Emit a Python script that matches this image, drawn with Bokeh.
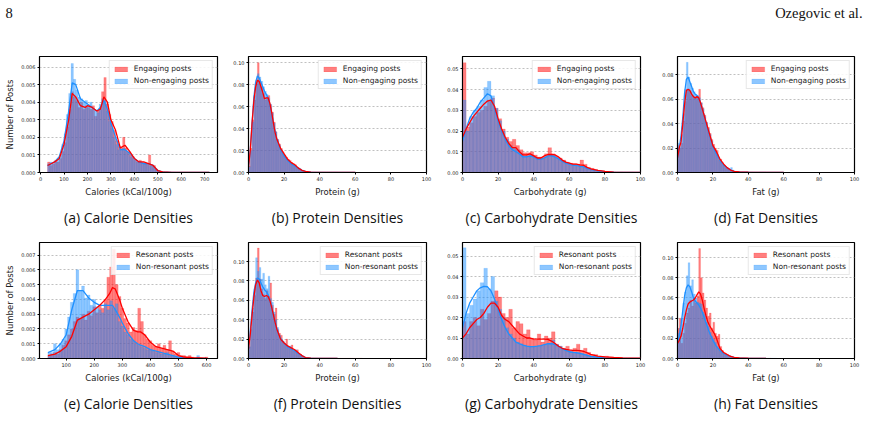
import numpy as np
from bokeh.plotting import figure
from bokeh.layouts import column, row
from bokeh.models import (Range1d, FixedTicker, NumeralTickFormatter, Legend,
                          LegendItem, Title)
from bokeh.embed import file_html
from bokeh.resources import INLINE
from bokeh.core.properties import value

# ---------------- DATA ----------------
# (a) Calories, engaging vs non-engaging; bins of 10 kCal starting at 30
cal_bin_start = 30
cal_bin_width = 10
cal_engaging = [0.0006, 0.0004, 0.0005, 0.0007, 0.0006, 0.0008, 0.0012, 0.0017, 0.0026, 0.0036,
                0.0046, 0.0043, 0.0041, 0.0037, 0.0040, 0.0036, 0.0038, 0.0037, 0.0036, 0.0038,
                0.0032, 0.0035, 0.0036, 0.0046, 0.0054, 0.0039, 0.0033, 0.0029, 0.0024, 0.0018,
                0.0015, 0.0014, 0.0020, 0.0014, 0.0012, 0.0010, 0.0009, 0.0007, 0.0006, 0.0007,
                0.0006, 0.0005, 0.0005, 0.0010, 0.0004, 0.0004, 0.0002, 0.0001,
                0.00006, 0.00004, 0.00003, 0.00002, 0.00002, 0.00002, 0.00001, 0.00001, 0.00001,
                0.00001, 0.00001, 0.00001, 0.00001, 0.00001, 0.00001, 0.00001, 0.00001, 0.00001,
                0.00001, 0.00001, 0.00001]
cal_nonengaging = [0.0005, 0.0006, 0.0005, 0.0006, 0.0008, 0.0010, 0.0016, 0.0022, 0.0033, 0.0045,
                   0.0062, 0.0053, 0.0047, 0.0043, 0.0042, 0.0040, 0.0041, 0.0038, 0.0040, 0.0036,
                   0.0035, 0.0034, 0.0039, 0.0042, 0.0041, 0.0035, 0.0029, 0.0025, 0.0020, 0.0016,
                   0.0013, 0.0013, 0.0014, 0.0012, 0.0011, 0.0009, 0.0008, 0.0007, 0.0006, 0.0006,
                   0.0005, 0.0005, 0.0005, 0.0004, 0.0004, 0.0003, 0.0002, 0.0001,
                   0.00004, 0.00003, 0.00003, 0.00002, 0.00002, 0.00001, 0.00001, 0.00001, 0.00001,
                   0.00001, 0.00001, 0.00001, 0.00001, 0.00001, 0.00001, 0.00001, 0.00001, 0.00001,
                   0.00001, 0.00001, 0.00001]
cal_kde_x = [30, 45, 60, 80, 100, 120, 135, 150, 170, 190, 200, 220, 240, 255, 270, 285,
             300, 320, 340, 360, 380, 400, 420, 440, 460, 480, 500, 520, 560, 620, 680, 720]
cal_kde_engaging = [0.0004, 0.0005, 0.0006, 0.0008, 0.0016, 0.0030, 0.0045, 0.0043, 0.0038, 0.0037,
                    0.0038, 0.0037, 0.0035, 0.0036, 0.0043, 0.0040, 0.0030, 0.0024, 0.0014, 0.00155,
                    0.0012, 0.0008, 0.0006, 0.0006, 0.0005, 0.0004, 0.0001, 0.00003, 0.00001,
                    0.00001, 0.00001, 0.0]
cal_kde_nonengaging = [0.0004, 0.0005, 0.0006, 0.0009, 0.0018, 0.0035, 0.0051, 0.0050, 0.0042, 0.0040,
                       0.0039, 0.0037, 0.0035, 0.0037, 0.0041, 0.0036, 0.0028, 0.0020, 0.0013, 0.0013,
                       0.0011, 0.0008, 0.0006, 0.0005, 0.0005, 0.0004, 0.0001, 0.00003, 0.00001,
                       0.00001, 0.00001, 0.0]

# (b) Protein, 1 g bins from 0
prot_bin_start = 0
prot_bin_width = 1
prot_engaging = [0.006, 0.022, 0.048, 0.066, 0.080, 0.100, 0.083, 0.078, 0.072, 0.066,
                 0.068, 0.070, 0.062, 0.055, 0.046, 0.037, 0.030, 0.026, 0.022, 0.019,
                 0.016, 0.014, 0.012, 0.011, 0.009, 0.008, 0.007, 0.005, 0.004, 0.003,
                 0.002, 0.001, 0.001, 0.0006, 0.0005, 0.0004, 0.0003, 0.0003, 0.0002, 0.0002,
                 0.0002, 0.0001, 0.0001, 0.0001, 0.0001, 0.0001, 0.0001, 0.0001, 0.0001, 0.0001]
prot_nonengaging = [0.005, 0.020, 0.046, 0.070, 0.084, 0.090, 0.087, 0.083, 0.078, 0.074,
                    0.071, 0.068, 0.062, 0.054, 0.045, 0.037, 0.030, 0.025, 0.021, 0.017,
                    0.015, 0.012, 0.011, 0.009, 0.008, 0.007, 0.006, 0.005, 0.004, 0.003,
                    0.002, 0.001, 0.0008, 0.0005, 0.0004, 0.0003, 0.0003, 0.0002, 0.0002, 0.0001,
                    0.0001, 0.0001, 0.0001, 0.0001, 0.0001, 0.0001, 0.0001, 0.0001, 0.0001, 0.0001]
prot_kde_x = [0, 1, 2, 3, 4, 5, 6, 7, 8, 9, 10, 11, 12, 13, 14, 15, 16, 18, 20, 22, 24, 26,
              28, 30, 32, 35, 40, 50, 60]
prot_kde_engaging = [0.005, 0.020, 0.045, 0.065, 0.078, 0.084, 0.083, 0.078, 0.073, 0.067, 0.068,
                     0.068, 0.063, 0.055, 0.045, 0.036, 0.030, 0.022, 0.017, 0.012, 0.009, 0.007,
                     0.004, 0.002, 0.001, 0.0003, 0.0001, 0.0, 0.0]
prot_kde_nonengaging = [0.005, 0.020, 0.045, 0.068, 0.082, 0.088, 0.086, 0.082, 0.078, 0.074, 0.071,
                        0.068, 0.062, 0.054, 0.045, 0.037, 0.030, 0.021, 0.015, 0.011, 0.008, 0.006,
                        0.004, 0.002, 0.001, 0.0003, 0.0001, 0.0, 0.0]

# (c) Carbohydrate, 2 g bins from 0
carb_bin_start = 0
carb_bin_width = 2
carb_engaging = [0.053, 0.022, 0.024, 0.027, 0.029, 0.030, 0.032, 0.035, 0.036, 0.031,
                 0.026, 0.021, 0.017, 0.015, 0.016, 0.013, 0.011, 0.0095, 0.0095, 0.010,
                 0.0085, 0.0075, 0.0075, 0.009, 0.012, 0.009, 0.008, 0.007, 0.006, 0.005,
                 0.0045, 0.0042, 0.0040, 0.0060, 0.0040, 0.0025, 0.0020, 0.0015, 0.0010, 0.0008,
                 0.0005, 0.0004, 0.0003, 0.0002, 0.0002, 0.0001, 0.0001, 0.0001, 0.0001, 0.0001]
carb_nonengaging = [0.035, 0.020, 0.027, 0.030, 0.032, 0.035, 0.041, 0.044, 0.037, 0.031,
                    0.025, 0.020, 0.016, 0.013, 0.012, 0.011, 0.009, 0.008, 0.008, 0.0085,
                    0.0075, 0.0065, 0.0065, 0.0075, 0.0085, 0.0085, 0.0075, 0.0065, 0.0055, 0.0045,
                    0.0040, 0.0036, 0.0034, 0.0030, 0.0028, 0.0020, 0.0015, 0.0012, 0.0008, 0.0005,
                    0.0004, 0.0003, 0.0002, 0.0001, 0.0001, 0.0001, 0.0001, 0.0001, 0.0, 0.0]
carb_kde_x = [0, 2, 4, 6, 8, 10, 12, 14, 16, 18, 20, 22, 24, 26, 28, 30, 32, 34, 36, 38, 40,
              42, 44, 46, 48, 50, 52, 54, 56, 58, 60, 62, 64, 66, 68, 70, 72, 76, 80, 85, 90, 100]
carb_kde_engaging = [0.017, 0.021, 0.024, 0.027, 0.029, 0.031, 0.033, 0.0345, 0.035, 0.032, 0.026,
                     0.021, 0.017, 0.014, 0.012, 0.012, 0.010, 0.0085, 0.0085, 0.009, 0.008,
                     0.007, 0.007, 0.008, 0.0087, 0.0087, 0.0085, 0.0075, 0.006, 0.005, 0.0045,
                     0.004, 0.004, 0.0037, 0.0035, 0.0025, 0.0018, 0.001, 0.0005, 0.0002, 0.0001, 0.0001]
carb_kde_nonengaging = [0.015, 0.021, 0.026, 0.029, 0.031, 0.034, 0.036, 0.038, 0.037, 0.031, 0.025,
                        0.020, 0.016, 0.013, 0.011, 0.010, 0.009, 0.0075, 0.0075, 0.008, 0.0075,
                        0.0065, 0.0065, 0.007, 0.008, 0.008, 0.0075, 0.0065, 0.0055, 0.0045, 0.004,
                        0.0035, 0.0035, 0.003, 0.0028, 0.002, 0.0015, 0.0008, 0.0004, 0.0002, 0.0001, 0.0]

# (d) Fat, 1 g bins from 0
fat_bin_start = 0
fat_bin_width = 1
fat_engaging = [0.022, 0.020, 0.024, 0.042, 0.058, 0.068, 0.068, 0.066, 0.063, 0.061,
                0.061, 0.062, 0.068, 0.057, 0.053, 0.047, 0.041, 0.037, 0.032, 0.027,
                0.023, 0.020, 0.018, 0.012, 0.011, 0.008, 0.006, 0.004, 0.003, 0.002,
                0.0015, 0.001, 0.0008, 0.0006, 0.0005, 0.0004, 0.0003, 0.0003, 0.0002, 0.0002,
                0.0002, 0.0002, 0.0002, 0.0001, 0.0001, 0.0001, 0.0001, 0.0001, 0.0001, 0.0001]
fat_nonengaging = [0.024, 0.021, 0.031, 0.048, 0.068, 0.090, 0.078, 0.073, 0.069, 0.066,
                   0.064, 0.063, 0.061, 0.057, 0.052, 0.046, 0.041, 0.036, 0.031, 0.026,
                   0.021, 0.018, 0.015, 0.010, 0.009, 0.006, 0.005, 0.004, 0.003, 0.003,
                   0.004, 0.002, 0.001, 0.0006, 0.0005, 0.0004, 0.0003, 0.0003, 0.0002, 0.0002,
                   0.0002, 0.0002, 0.0001, 0.0001, 0.0001, 0.0001, 0.0001, 0.0001, 0.0001, 0.0001]
fat_kde_x = [0, 1, 2, 3, 4, 5, 6, 7, 8, 9, 10, 11, 12, 13, 14, 15, 16, 17, 18, 19, 20,
             22, 24, 26, 28, 30, 32, 35, 40, 50, 60]
fat_kde_engaging = [0.012, 0.020, 0.025, 0.040, 0.056, 0.067, 0.068, 0.067, 0.064, 0.062, 0.061,
                    0.062, 0.061, 0.057, 0.052, 0.047, 0.042, 0.037, 0.032, 0.027, 0.022,
                    0.017, 0.011, 0.007, 0.004, 0.002, 0.001, 0.0005, 0.0002, 0.0001, 0.0]
fat_kde_nonengaging = [0.012, 0.020, 0.030, 0.045, 0.065, 0.076, 0.078, 0.074, 0.070, 0.066, 0.064,
                       0.063, 0.061, 0.057, 0.052, 0.047, 0.041, 0.036, 0.031, 0.026, 0.021,
                       0.015, 0.010, 0.006, 0.004, 0.002, 0.001, 0.0005, 0.0002, 0.0001, 0.0]

# (e) Calories, resonant vs non-resonant; bins of 10 kCal starting at 35
rcal_bin_start = 35
rcal_bin_width = 10
rcal_resonant = [0.0002, 0.0003, 0.0004, 0.0003, 0.0006, 0.0009, 0.0012, 0.0016, 0.0020, 0.0025,
                 0.0028, 0.0027, 0.0030, 0.0026, 0.0032, 0.0029, 0.0035, 0.0031, 0.0036, 0.0034,
                 0.0040, 0.0055, 0.0062, 0.0074, 0.0050, 0.0042, 0.0034, 0.0027, 0.0024, 0.0018,
                 0.0021, 0.0019, 0.0034, 0.0025, 0.0016, 0.0013, 0.0012, 0.0009, 0.0008, 0.0010,
                 0.0007, 0.0009, 0.0006, 0.0012, 0.0005, 0.0003, 0.0004, 0.0002, 0.0002, 0.0001,
                 0.0002, 0.0001, 0.0, 0.0001, 0.0, 0.0, 0.0001, 0.0]
rcal_nonresonant = [0.0004, 0.0004, 0.0010, 0.0006, 0.0010, 0.0013, 0.0020, 0.0028, 0.0038, 0.0044,
                    0.0060, 0.0046, 0.0049, 0.0041, 0.0043, 0.0036, 0.0040, 0.0035, 0.0033, 0.0031,
                    0.0037, 0.0033, 0.0039, 0.0034, 0.0037, 0.0025, 0.0022, 0.0018, 0.0016, 0.0013,
                    0.0012, 0.0010, 0.0009, 0.0008, 0.0007, 0.0006, 0.0006, 0.0005, 0.0004, 0.0004,
                    0.0003, 0.0003, 0.0004, 0.0002, 0.0002, 0.0001, 0.0001, 0.0001, 0.0, 0.0,
                    0.0001, 0.0, 0.0, 0.0002, 0.0, 0.0, 0.0, 0.0]
rcal_kde_x = [35, 60, 80, 100, 120, 140, 160, 180, 200, 220, 240, 255, 265, 275, 290, 300,
              320, 340, 355, 365, 380, 400, 420, 440, 460, 480, 500, 520, 550, 600]
rcal_kde_resonant = [0.0002, 0.0003, 0.0005, 0.0008, 0.0015, 0.0026, 0.0028, 0.0030, 0.0033, 0.0036,
                     0.0040, 0.0044, 0.0048, 0.0047, 0.0040, 0.0034, 0.0025, 0.0019, 0.0018, 0.0018,
                     0.0016, 0.0011, 0.0008, 0.0007, 0.0006, 0.0005, 0.0002, 0.0001, 0.00005, 0.00002]
rcal_kde_nonresonant = [0.0004, 0.0006, 0.0010, 0.0016, 0.0033, 0.0046, 0.0046, 0.0041, 0.0038, 0.0036,
                        0.0036, 0.0036, 0.0036, 0.0033, 0.0028, 0.0024, 0.0017, 0.0012, 0.0010, 0.0009,
                        0.0008, 0.0006, 0.0005, 0.0004, 0.0003, 0.0002, 0.0001, 0.00005, 0.00003, 0.00001]

# (f) Protein, resonant
rprot_resonant = [0.012, 0.030, 0.048, 0.065, 0.083, 0.114, 0.082, 0.072, 0.066, 0.062,
                  0.070, 0.064, 0.078, 0.055, 0.046, 0.052, 0.030, 0.026, 0.024, 0.018,
                  0.015, 0.020, 0.012, 0.010, 0.014, 0.008, 0.007, 0.009, 0.005, 0.004,
                  0.002, 0.001, 0.0005, 0.0003, 0.0002, 0.0002, 0.0002, 0.0002, 0.0002, 0.0002,
                  0.0002, 0.0002, 0.0002, 0.0002, 0.0002, 0.0002, 0.0002, 0.0002, 0.0002, 0.0002,
                  0.0002, 0.0002, 0.0002, 0.0002, 0.0002, 0.0002, 0.0002, 0.0002, 0.0002, 0.0002,
                  0.0002, 0.0002, 0.0002, 0.0002]
rprot_nonresonant = [0.012, 0.032, 0.052, 0.072, 0.104, 0.090, 0.094, 0.082, 0.088, 0.076,
                     0.072, 0.085, 0.062, 0.058, 0.048, 0.040, 0.032, 0.024, 0.020, 0.018,
                     0.016, 0.014, 0.012, 0.013, 0.010, 0.008, 0.009, 0.006, 0.004, 0.003,
                     0.002, 0.001, 0.0006, 0.0004, 0.0003, 0.0003, 0.0002, 0.0002, 0.0002, 0.0002,
                     0.0002, 0.0001, 0.0001, 0.0001, 0.0001, 0.0001, 0.0001, 0.0001, 0.0001, 0.0001]
rprot_kde_x = [0, 1, 2, 3, 4, 5, 6, 7, 8, 9, 10, 11, 12, 13, 14, 15, 16, 17, 18,
               20, 22, 24, 26, 28, 30, 32, 35, 40, 50]
rprot_kde_resonant = [0.010, 0.025, 0.045, 0.063, 0.076, 0.081, 0.078, 0.070, 0.065, 0.064, 0.065,
                      0.064, 0.060, 0.053, 0.045, 0.037, 0.030, 0.025, 0.020,
                      0.016, 0.013, 0.011, 0.009, 0.006, 0.003, 0.001, 0.0003, 0.0001, 0.0]
rprot_kde_nonresonant = [0.010, 0.028, 0.050, 0.068, 0.078, 0.083, 0.082, 0.078, 0.074, 0.071, 0.069,
                         0.066, 0.060, 0.053, 0.045, 0.037, 0.030, 0.025, 0.021,
                         0.016, 0.012, 0.010, 0.008, 0.005, 0.003, 0.001, 0.0004, 0.0001, 0.0]

# (g) Carbohydrate, resonant
rcarb_resonant = [0.018, 0.012, 0.018, 0.020, 0.016, 0.024, 0.019, 0.022, 0.028, 0.033,
                  0.030, 0.022, 0.020, 0.024, 0.015, 0.018, 0.017, 0.012, 0.014, 0.010,
                  0.009, 0.012, 0.008, 0.011, 0.010, 0.013, 0.007, 0.006, 0.005, 0.006,
                  0.004, 0.005, 0.007, 0.004, 0.005, 0.003, 0.002, 0.002, 0.001, 0.001,
                  0.0012, 0.0006, 0.0005, 0.0004, 0.0004, 0.0003, 0.0003, 0.0003, 0.0002, 0.0002]
rcarb_nonresonant = [0.054, 0.022, 0.026, 0.029, 0.033, 0.037, 0.044, 0.034, 0.040, 0.028,
                     0.024, 0.020, 0.015, 0.012, 0.010, 0.008, 0.0072, 0.0065, 0.006, 0.0058,
                     0.0058, 0.006, 0.0063, 0.0068, 0.0072, 0.009, 0.0068, 0.006, 0.0048, 0.004,
                     0.0033, 0.003, 0.0028, 0.0025, 0.0020, 0.0015, 0.0010, 0.0006, 0.0004, 0.0003,
                     0.0001, 0.0001, 0.0, 0.0, 0.0, 0.0, 0.0, 0.0, 0.0, 0.0]
rcarb_kde_resonant = [0.010, 0.012, 0.015, 0.017, 0.019, 0.020, 0.022, 0.025, 0.027, 0.027, 0.025,
                      0.021, 0.019, 0.018, 0.016, 0.014, 0.012, 0.011, 0.010, 0.010, 0.0095,
                      0.0095, 0.0095, 0.0095, 0.0093, 0.0085, 0.0073, 0.006, 0.005, 0.0045, 0.0042,
                      0.004, 0.004, 0.0038, 0.0035, 0.0028, 0.002, 0.0012, 0.0008, 0.0005, 0.0003, 0.0002]
rcarb_kde_nonresonant = [0.015, 0.022, 0.027, 0.030, 0.033, 0.0345, 0.0352, 0.035, 0.033, 0.029, 0.024,
                         0.019, 0.015, 0.012, 0.010, 0.008, 0.0072, 0.0065, 0.006, 0.0058, 0.0058,
                         0.006, 0.0063, 0.0068, 0.0072, 0.0073, 0.0068, 0.006, 0.0048, 0.004, 0.0033,
                         0.003, 0.0028, 0.0025, 0.002, 0.0015, 0.001, 0.0006, 0.0003, 0.0001, 0.0, 0.0]

# (h) Fat, resonant
rfat_resonant = [0.030, 0.040, 0.015, 0.025, 0.035, 0.045, 0.050, 0.058, 0.052, 0.060,
                 0.055, 0.062, 0.109, 0.080, 0.065, 0.058, 0.050, 0.042, 0.045, 0.030,
                 0.036, 0.025, 0.022, 0.024, 0.012, 0.008, 0.006, 0.005, 0.004, 0.003,
                 0.002, 0.001, 0.001, 0.0008, 0.0006, 0.0005, 0.0005, 0.0004, 0.0004, 0.0003,
                 0.0003, 0.0003, 0.0002, 0.0002, 0.0002, 0.0002, 0.0002, 0.0002, 0.0002, 0.0002,
                 0.0002, 0.0002, 0.0002]
rfat_nonresonant = [0.025, 0.030, 0.040, 0.055, 0.066, 0.082, 0.095, 0.072, 0.078, 0.064,
                    0.060, 0.056, 0.055, 0.054, 0.046, 0.044, 0.036, 0.032, 0.026, 0.022,
                    0.019, 0.016, 0.012, 0.010, 0.008, 0.006, 0.004, 0.003, 0.002, 0.002,
                    0.002, 0.001, 0.001, 0.0006, 0.0005, 0.0004, 0.0003, 0.0003, 0.0002, 0.0002,
                    0.0002, 0.0003, 0.0002, 0.0002, 0.0002, 0.0002, 0.0002, 0.0002, 0.0002, 0.0002,
                    0.0002, 0.0002, 0.0002, 0.0002, 0.0002, 0.0002]
rfat_kde_x = [0, 1, 2, 3, 4, 5, 6, 7, 8, 9, 10, 11, 12, 13, 14, 15, 16, 17, 18, 19, 20,
              21, 22, 23, 24, 26, 28, 30, 32, 35, 40, 50]
rfat_kde_resonant = [0.015, 0.018, 0.022, 0.030, 0.040, 0.048, 0.054, 0.056, 0.057, 0.058, 0.060,
                     0.063, 0.066, 0.064, 0.058, 0.050, 0.043, 0.037, 0.033, 0.030, 0.027,
                     0.024, 0.020, 0.015, 0.010, 0.006, 0.004, 0.002, 0.001, 0.0006, 0.0003, 0.0001]
rfat_kde_nonresonant = [0.015, 0.022, 0.033, 0.048, 0.062, 0.070, 0.073, 0.071, 0.066, 0.060, 0.057,
                        0.055, 0.053, 0.050, 0.046, 0.041, 0.036, 0.031, 0.026, 0.022, 0.018,
                        0.015, 0.012, 0.010, 0.008, 0.005, 0.003, 0.002, 0.001, 0.0005, 0.0002, 0.0]

# ticks and labels
cal_top_xticks = [0, 100, 200, 300, 400, 500, 600, 700]
cal_bot_xticks = [100, 200, 300, 400, 500, 600]
pct_xticks = [0, 20, 40, 60, 80, 100]
cal_top_yticks = [0.0, 0.001, 0.002, 0.003, 0.004, 0.005, 0.006]
cal_bot_yticks = [0.0, 0.001, 0.002, 0.003, 0.004, 0.005, 0.006, 0.007]
step02_yticks = [0.0, 0.02, 0.04, 0.06, 0.08, 0.10]
step01_yticks = [0.0, 0.01, 0.02, 0.03, 0.04, 0.05]
fat_top_yticks = [0.0, 0.02, 0.04, 0.06, 0.08]

top_labels = ["Engaging posts", "Non-engaging posts"]
bot_labels = ["Resonant posts", "Non-resonant posts"]

# ---------------- STYLE ----------------
RED = "#ff0000"
BLUE = "#1e90ff"
TICK_FONT = "DejaVu Sans"
CAP_FONT = "Open Sans"


def make_panel(width, height, mb_left, mb_right, mb_top, mb_bottom, xr, yr,
               xticks, yticks, yfmt, xlabel, ylabel, caption, cap_offset,
               bin_start, bin_w, red_vals, blue_vals,
               kde_x, kde_red, kde_blue, labels):
    p = figure(width=width, height=height, x_range=Range1d(*xr), y_range=Range1d(*yr),
               toolbar_location=None, output_backend="svg",
               min_border_left=mb_left, min_border_right=mb_right,
               min_border_top=mb_top, min_border_bottom=mb_bottom)
    p.background_fill_color = "white"
    p.border_fill_color = "white"
    p.outline_line_color = "black"
    p.outline_line_width = 1.2

    red_left = bin_start + bin_w * np.arange(len(red_vals))
    blue_left = bin_start + bin_w * np.arange(len(blue_vals))
    r_red = p.quad(left=red_left, right=red_left + bin_w, bottom=0, top=red_vals,
                   fill_color=RED, fill_alpha=0.5, line_color=RED,
                   line_width=0.4, line_alpha=0.35)
    r_blue = p.quad(left=blue_left, right=blue_left + bin_w, bottom=0, top=blue_vals,
                    fill_color=BLUE, fill_alpha=0.5, line_color=BLUE,
                    line_width=0.4, line_alpha=0.35)
    p.line(kde_x, kde_blue, line_color=BLUE, line_width=1.3)
    p.line(kde_x, kde_red, line_color=RED, line_width=1.3)

    legend = Legend(items=[LegendItem(label=labels[0], renderers=[r_red]),
                           LegendItem(label=labels[1], renderers=[r_blue])],
                    location="top_right")
    legend.label_text_font = TICK_FONT
    legend.label_text_font_size = "7.5px"
    legend.label_text_color = "#222222"
    legend.glyph_width = 16
    legend.glyph_height = 6
    legend.label_height = 7
    legend.label_standoff = 5
    legend.spacing = 3
    legend.padding = 3
    legend.margin = 4
    legend.border_line_color = "#d0d0d0"
    legend.border_line_width = 0.8
    legend.background_fill_alpha = 0.85
    p.add_layout(legend)

    xt = FixedTicker(ticks=xticks, minor_ticks=[])
    yt = FixedTicker(ticks=yticks, minor_ticks=[])
    p.xaxis.ticker = xt
    p.yaxis.ticker = yt
    p.xgrid.visible = False
    p.ygrid.ticker = yt
    p.ygrid.grid_line_color = "#b0b0b0"
    p.ygrid.grid_line_dash = "2 2"
    p.ygrid.grid_line_width = 0.8
    p.yaxis.formatter = NumeralTickFormatter(format=yfmt)
    p.xaxis.formatter = NumeralTickFormatter(format="0")
    for ax in (p.xaxis, p.yaxis):
        ax.axis_line_color = "black"
        ax.axis_line_width = 1
        ax.major_tick_out = 2
        ax.major_tick_in = 0
        ax.minor_tick_out = 0
        ax.minor_tick_in = 0
        ax.major_tick_line_color = "black"
        ax.major_label_text_font = TICK_FONT
        ax.major_label_text_font_size = "5px"
        ax.major_label_text_color = "#222222"
        ax.major_label_standoff = 2
        ax.axis_label_text_font = TICK_FONT
        ax.axis_label_text_font_size = "8.5px"
        ax.axis_label_text_font_style = "normal"
        ax.axis_label_text_color = "#222222"
        ax.axis_label_standoff = 3
    p.xaxis.axis_label = xlabel
    if ylabel:
        p.yaxis.axis_label = ylabel

    p.add_layout(Title(text=caption, align="center", text_font=CAP_FONT,
                       text_font_size="14px", text_font_style="normal",
                       text_color="#111111", offset=cap_offset, standoff=12), "below")
    return p


# row geometry
W = [226, 215, 214, 214]
ML = [39, 22, 21, 22]
MR = [9, 15, 15, 15]

pa = make_panel(W[0], 202, ML[0], MR[0], 26, 57, (-4.5, 754.5), (0, 0.0066),
                cal_top_xticks, cal_top_yticks, "0.000", "Calories (kCal/100g)", "Number of Posts",
                "(a) Calorie Densities", -15, cal_bin_start, cal_bin_width,
                cal_engaging, cal_nonengaging, cal_kde_x, cal_kde_engaging, cal_kde_nonengaging,
                top_labels)
pb = make_panel(W[1], 202, ML[1], MR[1], 26, 57, (0, 100), (0, 0.1056),
                pct_xticks, step02_yticks, "0.00", "Protein (g)", None,
                "(b) Protein Densities", -10, prot_bin_start, prot_bin_width,
                prot_engaging, prot_nonengaging, prot_kde_x, prot_kde_engaging, prot_kde_nonengaging,
                top_labels)
pc = make_panel(W[2], 202, ML[2], MR[2], 26, 57, (0, 100), (0, 0.056),
                pct_xticks, step01_yticks, "0.00", "Carbohydrate  (g)", None,
                "(c) Carbohydrate Densities", 0, carb_bin_start, carb_bin_width,
                carb_engaging, carb_nonengaging, carb_kde_x, carb_kde_engaging, carb_kde_nonengaging,
                top_labels)
pd_ = make_panel(W[3], 202, ML[3], MR[3], 26, 57, (0, 100), (0, 0.0948),
                 pct_xticks, fat_top_yticks, "0.00", "Fat (g)", None,
                 "(d) Fat Densities", -6, fat_bin_start, fat_bin_width,
                 fat_engaging, fat_nonengaging, fat_kde_x, fat_kde_engaging, fat_kde_nonengaging,
                 top_labels)

pe = make_panel(W[0], 186, ML[0], MR[0], 10, 57, (5, 639), (0, 0.00785),
                cal_bot_xticks, cal_bot_yticks, "0.000", "Calories (kCal/100g)", "Number of Posts",
                "(e) Calorie Densities", -14, rcal_bin_start, rcal_bin_width,
                rcal_resonant, rcal_nonresonant, rcal_kde_x, rcal_kde_resonant, rcal_kde_nonresonant,
                bot_labels)
pf = make_panel(W[1], 186, ML[1], MR[1], 10, 57, (0, 100), (0, 0.1197),
                pct_xticks, step02_yticks, "0.00", "Protein (g)", None,
                "(f) Protein Densities", -10, prot_bin_start, prot_bin_width,
                rprot_resonant, rprot_nonresonant, rprot_kde_x, rprot_kde_resonant, rprot_kde_nonresonant,
                bot_labels)
pg = make_panel(W[2], 186, ML[2], MR[2], 10, 57, (0, 100), (0, 0.0566),
                pct_xticks, step01_yticks, "0.00", "Carbohydrate  (g)", None,
                "(g) Carbohydrate Densities", 2, carb_bin_start, carb_bin_width,
                rcarb_resonant, rcarb_nonresonant, carb_kde_x, rcarb_kde_resonant, rcarb_kde_nonresonant,
                bot_labels)
ph = make_panel(W[3], 186, ML[3], MR[3], 10, 57, (0, 100), (0, 0.115),
                pct_xticks, step02_yticks, "0.00", "Fat (g)", None,
                "(h) Fat Densities", -6, fat_bin_start, fat_bin_width,
                rfat_resonant, rfat_nonresonant, rfat_kde_x, rfat_kde_resonant, rfat_kde_nonresonant,
                bot_labels)

# page header
header = figure(width=869, height=30, x_range=Range1d(0, 869), y_range=Range1d(0, 30),
                toolbar_location=None, output_backend="svg", min_border=0,
                x_axis_type=None, y_axis_type=None)
header.outline_line_color = None
header.grid.visible = False
header.text(x=[5], y=[18], text=["8"], text_font=value("Liberation Serif"),
            text_font_size="14.5px", text_baseline="middle", text_align="left",
            text_color="#111111")
header.text(x=[862], y=[18], text=["Ozegovic et al."], text_font=value("Liberation Serif"),
            text_font_size="14.5px", text_baseline="middle", text_align="right",
            text_color="#111111")

layout = column(header, row(pa, pb, pc, pd_, spacing=0), row(pe, pf, pg, ph, spacing=0), spacing=0)
open("out.html", "w").write(file_html(layout, INLINE))
